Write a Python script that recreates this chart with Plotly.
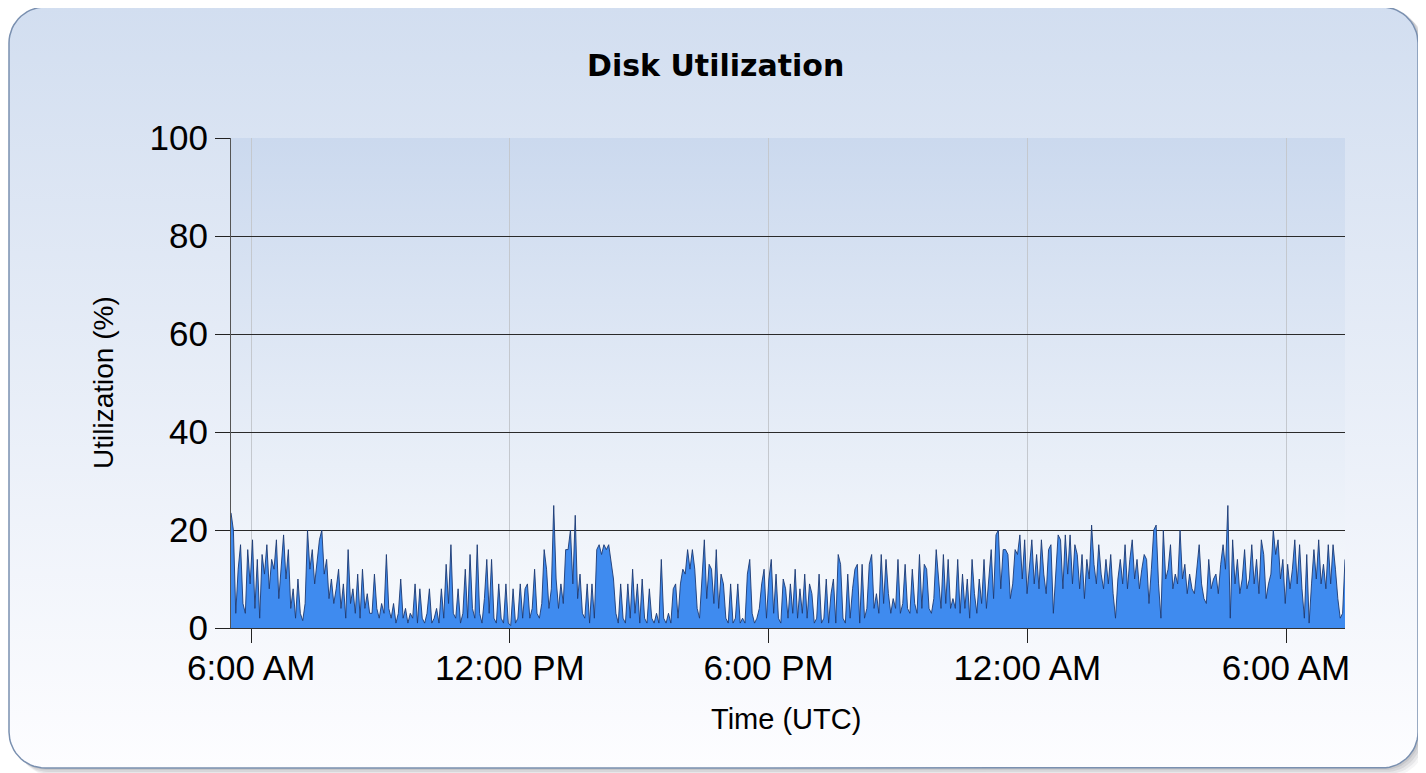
import numpy as np
import pandas as pd
import plotly.graph_objects as go

# ---------------- data ----------------
t_start = "2023-03-14 05:32"
t_end = "2023-03-15 07:22"

util_early_morning = [23.5, 20, 3, 12, 17, 5, 3, 16, 9, 18, 4, 14, 2, 15, 11, 17, 8, 14, 12, 18,
                      6, 13, 19, 10, 16, 4, 8, 2, 10, 3, 1.5, 5, 20, 12, 16, 9, 13, 18, 20, 11,
                      14, 6, 10, 5, 8, 12, 4, 9, 2, 16, 5, 8, 3, 11, 2, 12, 4, 7, 3]
util_morning = [3, 11, 4, 2, 5, 3, 15, 4, 2, 5, 1, 3, 10, 2, 4, 1, 3, 2, 9, 1,
                8, 2, 1, 3, 8, 1, 2, 4, 1, 8, 2, 13, 5, 17, 3, 2, 8, 1, 3, 12,
                2, 15, 4, 2, 17, 3, 1, 6, 14, 3, 14, 2, 1, 9, 2, 1, 9, 1, 0.5, 8]
util_midday = [1, 2, 9, 2, 8, 9, 2, 4, 12, 3, 2, 5, 16, 12, 4, 8, 25, 10, 4, 9,
               5, 16, 16, 20, 9, 23, 6, 11, 3, 2, 9, 1, 9, 2, 16, 17, 15, 17, 16, 17,
               13, 10, 3, 1, 9, 2, 1, 9, 2, 12, 3, 9, 1, 10, 2, 1, 8, 2, 1, 3, 1, 14]
util_afternoon = [2, 1, 3, 1, 8, 9, 2, 9, 12, 11, 16, 12, 16, 12, 4, 2, 10, 18, 6, 13,
                  12, 5, 16, 4, 11, 9, 2, 1, 9, 1, 2, 9, 1, 2, 1, 11, 14, 3, 1, 2,
                  4, 9, 12, 2, 10, 14, 3, 11, 2, 1, 10, 8, 2, 9, 3, 12, 2, 8, 3, 11, 2, 9]
util_evening = [7, 1, 2, 11, 1, 2, 10, 1, 7, 10, 1, 15, 13, 2, 1, 11, 2, 8, 12, 13,
                1, 13, 2, 4, 13, 15, 4, 7, 3, 15, 5, 14, 7, 3, 6, 4, 14, 3, 5, 13,
                4, 3, 12, 5, 3, 15, 4, 13, 12, 4, 3, 6, 16, 9, 4, 15, 5, 14, 4, 6]
util_night = [4, 14, 3, 11, 4, 10, 2, 14, 7, 3, 10, 5, 14, 4, 11, 16, 6, 19, 20, 8,
              16, 16, 15, 6, 9, 16, 15, 19, 10, 18, 7, 12, 18, 9, 15, 8, 18, 11, 7, 16,
              17, 3, 10, 19, 18, 8, 19, 11, 19, 9, 17, 15, 8, 15, 6, 14, 10, 21, 13, 9, 17]
util_late_night = [11, 8, 14, 9, 15, 7, 2, 10, 14, 9, 17, 8, 14, 18, 10, 14, 8, 12, 15, 14,
                   5, 12, 20, 21, 9, 2, 20, 10, 12, 17, 8, 11, 9, 20, 10, 13, 7, 11, 8, 7,
                   12, 17, 9, 6, 5, 14, 8, 10, 11, 7, 13, 17, 12, 25, 2, 18, 9, 14, 7, 10, 16]
util_next_morning = [8, 10, 17, 9, 14, 7, 18, 15, 6, 9, 11, 20, 15, 18, 10, 14, 5, 13, 8, 12,
                     18, 9, 17, 8, 2, 15, 1, 9, 16, 10, 18, 9, 13, 8, 17, 9, 17, 12, 6, 2,
                     3, 14]

utilization = (util_early_morning + util_morning + util_midday + util_afternoon +
               util_evening + util_night + util_late_night + util_next_morning)
times = pd.date_range(t_start, t_end, periods=len(utilization))

x_tickvals = ["2023-03-14 06:00", "2023-03-14 12:00", "2023-03-14 18:00",
              "2023-03-15 00:00", "2023-03-15 06:00"]
x_ticktext = ["6:00 AM", "12:00 PM", "6:00 PM", "12:00 AM", "6:00 AM"]
y_tickvals = [0, 20, 40, 60, 80, 100]

# ---------------- layout geometry (screen pixels) ----------------
SW, SH = 1426, 773          # screen size
OFF = 8                     # page body margin
W, H = SW - OFF, SH - OFF   # figure size
PL, PR, PT, PB = 231, 1345, 138, 628   # plot area on screen


def fx(sx):
    return sx - OFF


def fy(sy):
    return SH - sy


def rrect(x0, y0, x1, y1, r, n=16):
    xs, ys = [], []
    for cx, cy, a0 in [(x1 - r, y1 - r, 0), (x0 + r, y1 - r, 90),
                       (x0 + r, y0 + r, 180), (x1 - r, y0 + r, 270)]:
        a = np.radians(np.linspace(a0, a0 + 90, n))
        xs += list(cx + r * np.cos(a))
        ys += list(cy + r * np.sin(a))
    xs.append(xs[0])
    ys.append(ys[0])
    return xs, ys


fig = go.Figure()

# shadow
for off, alpha in [(8, 0.05), (6, 0.07), (4, 0.09), (2, 0.10)]:
    sx, sy = rrect(fx(9) + off, fy(768) - off, fx(1418) + off, fy(7) - off + 2, 36)
    fig.add_trace(go.Scatter(x=sx, y=sy, fill="toself", mode="lines",
                             line=dict(width=0), fillcolor=f"rgba(60,60,70,{alpha})",
                             hoverinfo="skip", showlegend=False, xaxis="x", yaxis="y"))

# panel
px_, py_ = rrect(fx(9), fy(768), fx(1418), fy(7), 36)
fig.add_trace(go.Scatter(x=px_, y=py_, fill="toself", mode="lines",
                         line=dict(color="#7a90b0", width=1.5),
                         fillgradient=dict(type="vertical",
                                           colorscale=[[0, "#fdfdff"], [1, "#d2def0"]]),
                         hoverinfo="skip", showlegend=False, xaxis="x", yaxis="y"))

# plot-area gradient
fig.add_trace(go.Scatter(x=[fx(PL), fx(PR), fx(PR), fx(PL), fx(PL)],
                         y=[fy(PB), fy(PB), fy(PT), fy(PT), fy(PB)],
                         fill="toself", mode="lines", line=dict(width=0),
                         fillgradient=dict(type="vertical",
                                           colorscale=[[0, "#f8fafd"], [1, "#cbd9ee"]]),
                         hoverinfo="skip", showlegend=False, xaxis="x", yaxis="y"))

# data
fig.add_trace(go.Scatter(x=times, y=utilization, mode="lines", fill="tozeroy",
                         fillcolor="#3f8bef", line=dict(color="rgba(28,58,115,0.9)", width=1),
                         hoverinfo="skip", showlegend=False, xaxis="x2", yaxis="y2"))

tick_font = dict(family="Liberation Sans, Arial, sans-serif", size=35, color="black")

fig.update_layout(
    template="none",
    width=W, height=H, autosize=False,
    margin=dict(l=0, r=0, t=0, b=0, pad=0, autoexpand=False),
    paper_bgcolor="white", plot_bgcolor="rgba(0,0,0,0)",
    showlegend=False,
    xaxis=dict(domain=[0, 1], range=[0, W], visible=False, fixedrange=True, automargin=False),
    yaxis=dict(domain=[0, 1], range=[0, H], visible=False, fixedrange=True, automargin=False),
    xaxis2=dict(domain=[fx(PL) / W, fx(PR) / W], anchor="y2", type="date", automargin=False,
                range=[t_start, t_end], tickvals=x_tickvals, ticktext=x_ticktext,
                ticks="outside", ticklen=14, tickcolor="#222", tickwidth=1,
                ticklabelstandoff=-5,
                showline=True, linecolor="#333", linewidth=1,
                showgrid=True, gridcolor="#c4c8ce", gridwidth=1, zeroline=False,
                tickfont=tick_font),
    yaxis2=dict(domain=[fy(PB) / H, fy(PT) / H], anchor="x2", automargin=False,
                range=[0, 100], tickvals=y_tickvals,
                ticks="outside", ticklen=15, tickcolor="#222", tickwidth=1,
                showline=True, linecolor="#555", linewidth=1,
                showgrid=True, gridcolor="#2a2a2a", gridwidth=1, zeroline=False,
                tickfont=tick_font),
    annotations=[
        dict(text="<b>Disk Utilization</b>", x=fx(715) / W, y=fy(66) / H,
             xref="paper", yref="paper",
             showarrow=False, xanchor="center", yanchor="middle",
             font=dict(family="DejaVu Sans, sans-serif", size=30, color="black")),
        dict(text="Utilization (%)", x=fx(103) / W, y=fy(383) / H,
             xref="paper", yref="paper",
             showarrow=False, textangle=-90, xanchor="center", yanchor="middle",
             font=dict(family="Liberation Sans, Arial, sans-serif", size=28, color="black")),
        dict(text="Time (UTC)", x=fx(786) / W, y=fy(719) / H,
             xref="paper", yref="paper",
             showarrow=False, xanchor="center", yanchor="middle",
             font=dict(family="Liberation Sans, Arial, sans-serif", size=29, color="black")),
    ],
)

fig.write_html("out.html", config={"displayModeBar": False, "staticPlot": True})
